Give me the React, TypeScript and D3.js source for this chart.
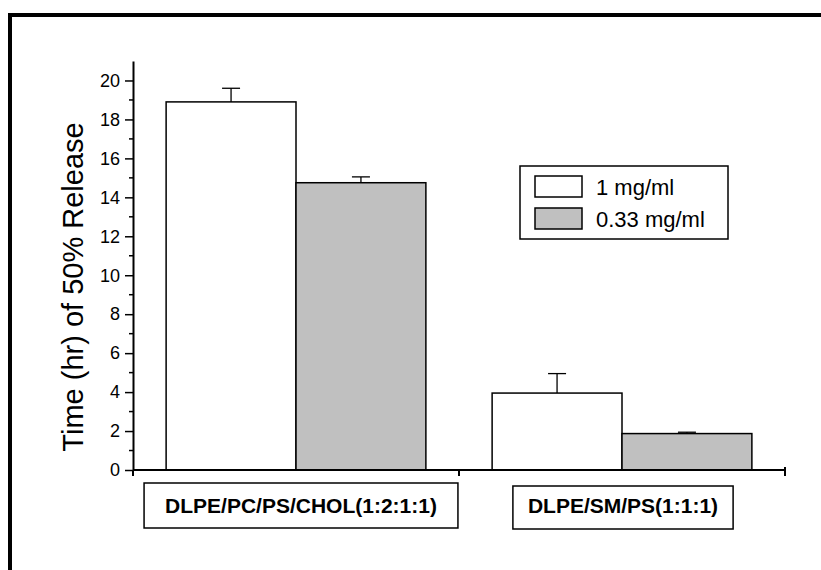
import React, { useEffect, useRef } from 'react';
import * as d3 from 'd3';

const categories = ["DLPE/PC/PS/CHOL(1:2:1:1)", "DLPE/SM/PS(1:1:1)"];
const seriesNames = ["1 mg/ml", "0.33 mg/ml"];
const seriesColors = ["#ffffff", "#c0c0c0"];
const highConc = [18.9, 3.95];
const highConcErr = [0.7, 1.0];
const lowConc = [14.75, 1.87];
const lowConcErr = [0.3, 0.07];
const yTicks = [0, 2, 4, 6, 8, 10, 12, 14, 16, 18, 20];

const FONT = "'Liberation Sans', Arial, Helvetica, sans-serif";

export default function App() {
    const ref = useRef<SVGSVGElement>(null);

    useEffect(() => {
        const svg = d3.select(ref.current);
        svg.selectAll("*").remove();

        const width = 821, height = 570;
        const margin = { left: 133, right: 36, top: 61, bottom: 100 };

        // outer frame, runs off the right and bottom of the picture
        svg.append("rect")
            .attr("x", 10).attr("y", 15)
            .attr("width", width + 20).attr("height", height + 20)
            .attr("fill", "none").attr("stroke", "#000").attr("stroke-width", 4);

        const yScale = d3.scaleLinear()
            .domain([0, 21])
            .range([height - margin.bottom, margin.top]);

        const xScale = d3.scaleBand<string>()
            .domain(categories)
            .range([margin.left, width - margin.right])
            .padding(0);

        const subScale = d3.scaleBand<number>()
            .domain([0, 1])
            .range([0, xScale.bandwidth()])
            .paddingInner(0)
            .paddingOuter(0.255);

        const rows = categories.map((c, i) => ({
            cat: c,
            vals: [
                { s: 0, v: highConc[i], e: highConcErr[i] },
                { s: 1, v: lowConc[i], e: lowConcErr[i] }
            ]
        }));

        const y0 = yScale(0);

        // bars
        const groups = svg.append("g").selectAll("g")
            .data(rows).enter().append("g")
            .attr("transform", d => `translate(${xScale(d.cat)},0)`);

        groups.selectAll("rect")
            .data(d => d.vals).enter().append("rect")
            .attr("x", d => subScale(d.s)!)
            .attr("y", d => yScale(d.v))
            .attr("width", subScale.bandwidth())
            .attr("height", d => y0 - yScale(d.v))
            .attr("fill", d => seriesColors[d.s])
            .attr("stroke", "#000")
            .attr("stroke-width", 1.5);

        // upper error bars
        const err = groups.selectAll("g.err")
            .data(d => d.vals).enter().append("g")
            .attr("class", "err")
            .attr("stroke", "#000").attr("stroke-width", 1.3);
        err.append("line")
            .attr("x1", d => subScale(d.s)! + subScale.bandwidth() / 2)
            .attr("x2", d => subScale(d.s)! + subScale.bandwidth() / 2)
            .attr("y1", d => yScale(d.v))
            .attr("y2", d => yScale(d.v + d.e));
        err.append("line")
            .attr("x1", d => subScale(d.s)! + subScale.bandwidth() / 2 - 9)
            .attr("x2", d => subScale(d.s)! + subScale.bandwidth() / 2 + 9)
            .attr("y1", d => yScale(d.v + d.e))
            .attr("y2", d => yScale(d.v + d.e));

        // y axis
        const yAxis = svg.append("g")
            .attr("transform", `translate(${margin.left},0)`)
            .call(d3.axisLeft(yScale).tickValues(yTicks).tickSize(8).tickSizeOuter(0).tickPadding(5));
        yAxis.attr("font-size", 18).attr("font-family", FONT);
        yAxis.select(".domain").attr("stroke-width", 2);
        yAxis.selectAll(".tick line").attr("stroke-width", 1.5);
        yAxis.selectAll(".tick text")
            .attr("font-family", FONT).attr("font-size", 18).attr("fill", "#000");

        // minor ticks
        svg.append("g").selectAll("line")
            .data(d3.range(1, 21, 2)).enter().append("line")
            .attr("x1", margin.left - 4).attr("x2", margin.left)
            .attr("y1", d => yScale(d)).attr("y2", d => yScale(d))
            .attr("stroke", "#000").attr("stroke-width", 1.5);

        // x axis
        const xEnd = width - margin.right;
        svg.append("line")
            .attr("x1", margin.left).attr("x2", xEnd)
            .attr("y1", y0).attr("y2", y0)
            .attr("stroke", "#000").attr("stroke-width", 2);
        const bounds = categories.map(c => xScale(c)!).concat([xEnd]);
        svg.append("g").selectAll("line")
            .data(bounds).enter().append("line")
            .attr("x1", d => d).attr("x2", d => d)
            .attr("y1", (d, i) => i === bounds.length - 1 ? y0 - 3 : y0)
            .attr("y2", y0 + 6)
            .attr("stroke", "#000").attr("stroke-width", 2);

        // category labels in boxes
        const labels = svg.append("g").selectAll("g")
            .data(categories).enter().append("g");
        labels.append("text")
            .attr("x", (d, i) => xScale(d)! + xScale.bandwidth() / 2 + (i === 0 ? 5 : 1))
            .attr("y", 513)
            .attr("text-anchor", "middle")
            .attr("font-family", FONT).attr("font-weight", "bold").attr("font-size", 21)
            .text(d => d);
        labels.each(function (d, i) {
            const g = d3.select(this);
            const bb = (g.select("text").node() as SVGTextElement).getBBox();
            const pad = i === 0 ? 21 : 15;
            g.insert("rect", "text")
                .attr("x", bb.x - pad).attr("y", i === 0 ? 483 : 486)
                .attr("width", bb.width + pad * 2).attr("height", i === 0 ? 45 : 43)
                .attr("fill", "#fff").attr("stroke", "#000").attr("stroke-width", 1.5);
        });

        // y title
        svg.append("text")
            .attr("transform", "translate(83,287) rotate(-90)")
            .attr("text-anchor", "middle")
            .attr("font-family", FONT).attr("font-size", 29)
            .text("Time (hr) of 50% Release");

        // legend
        const legend = svg.append("g").attr("transform", "translate(520,166)");
        legend.append("rect")
            .attr("width", 208).attr("height", 73)
            .attr("fill", "#fff").attr("stroke", "#000").attr("stroke-width", 1.5);
        const item = legend.selectAll("g").data(seriesNames).enter().append("g")
            .attr("transform", (d, i) => `translate(0,${i * 32})`);
        item.append("rect")
            .attr("x", 15).attr("y", 10)
            .attr("width", 47).attr("height", 21)
            .attr("fill", (d, i) => seriesColors[i])
            .attr("stroke", "#000").attr("stroke-width", 1.5);
        item.append("text")
            .attr("x", 76).attr("y", 29)
            .attr("font-family", FONT).attr("font-size", 22)
            .text(d => d);
    }, []);

    return (
        <svg ref={ref} width={821} height={570}
            style={{ position: "absolute", left: 0, top: 0, background: "#fff" }} />
    );
}
